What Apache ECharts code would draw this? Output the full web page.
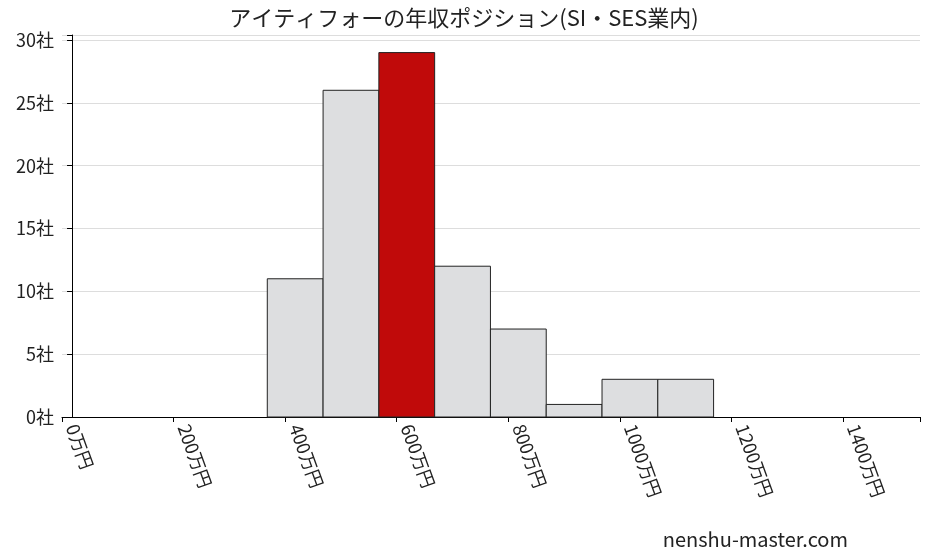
<!DOCTYPE html>
<html><head><meta charset="utf-8">
<script src="https://cdn.jsdelivr.net/npm/echarts@6/dist/echarts.min.js"></script>
<style>body{margin:0}#c{width:928px;height:557px}</style>
</head><body><div id="c"></div>
<script>
var binStart = [350, 450, 550, 650, 750, 850, 950, 1050]
var binEnd = [450, 550, 650, 750, 850, 950, 1050, 1150]
var counts = [11, 26, 29, 12, 7, 1, 3, 3]
var highlightIndex = 2
var xTicks = [0, 200, 400, 600, 800, 1000, 1200, 1400]

var font = '"Noto Sans CJK JP", sans-serif'
var chart = echarts.init(document.getElementById('c'))
var data = counts.map(function (v, i) { return [binStart[i], binEnd[i], v] })

chart.setOption({
  backgroundColor: '#fff',
  animation: false,
  title: {
    text: 'アイティフォーの年収ポジション(SI・SES業内)',
    left: 'center', top: 2,
    textStyle: { fontFamily: font, fontSize: 22, fontWeight: 'normal', color: '#222' }
  },
  graphic: [{
    type: 'text', right: 80, bottom: 8,
    style: { text: 'nenshu-master.com', font: '20px ' + font, fill: '#222' }
  }],
  grid: { left: 62, right: 8, top: 35, bottom: 140 },
  xAxis: {
    type: 'value', min: -18, max: 1520,
    splitLine: { show: false },
    axisLine: { lineStyle: { color: '#000' } },
    axisTick: { show: true, lineStyle: { color: '#000' } },
    interval: 200,
    axisLabel: {
      rotate: -70, fontFamily: font, fontSize: 18, color: '#222',
      customValues: xTicks,
      formatter: function (v) { return v + '万円' }
    }
  },
  yAxis: {
    type: 'value', min: 0, max: 30.4, interval: 5,
    axisLine: { show: true, lineStyle: { color: '#000' } },
    axisTick: { show: true, lineStyle: { color: '#000' } },
    splitLine: { lineStyle: { color: '#ddd' } },
    axisLabel: {
      fontFamily: font, fontSize: 18, color: '#222',
      formatter: function (v) { return v % 5 === 0 ? v + '社' : '' }
    }
  },
  series: [{
    type: 'custom',
    data: data,
    renderItem: function (params, api) {
      var p0 = api.coord([api.value(0), api.value(2)])
      var p1 = api.coord([api.value(1), 0])
      return {
        type: 'rect',
        shape: { x: p0[0], y: p0[1], width: p1[0] - p0[0], height: p1[1] - p0[1] },
        style: {
          fill: params.dataIndex === highlightIndex ? '#c00a0a' : '#dddee0',
          stroke: '#222', lineWidth: 1
        }
      }
    }
  }]
})
</script></body></html>
